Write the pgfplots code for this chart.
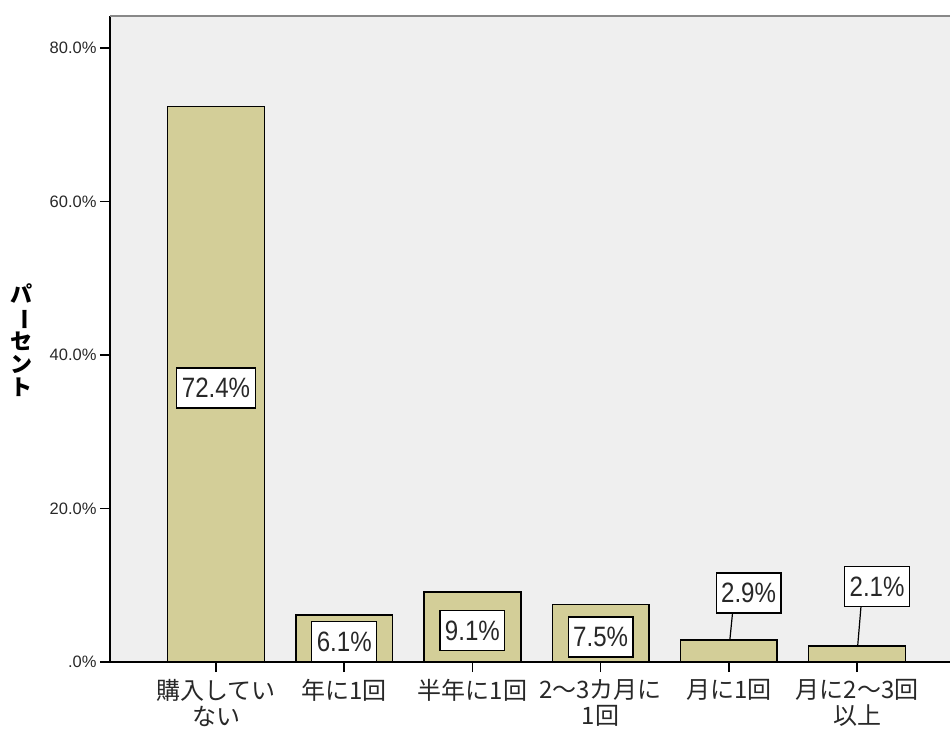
\documentclass[border=0pt]{standalone}
\usepackage{fontspec}
\setmainfont{Liberation Sans}
\newfontfamily\jp{Noto Sans CJK JP}
\newfontfamily\lblfont[FakeStretch=0.86]{Liberation Sans}
\usepackage{graphicx}
\usepackage{pgfplots}
\pgfplotsset{compat=1.18}
\definecolor{bgc}{RGB}{239,239,239}
\definecolor{barc}{RGB}{211,206,152}
\definecolor{topc}{RGB}{136,136,136}
\definecolor{txt}{RGB}{40,40,40}
\tikzset{lbl/.style={draw=black, fill=white, line width=1.2pt, text=txt, font=\lblfont\fontsize{28}{30}\selectfont, inner xsep=5pt, inner ysep=0pt, minimum height=40pt}}
\begin{document}
\begin{tikzpicture}
\path[use as bounding box] (-110pt,-69pt) rectangle (840pt,662pt);
\begin{axis}[
  at={(0pt,0pt)}, anchor=south west,
  scale only axis, width=840pt, height=646pt,
  xmin=-0.827, xmax=5.725, ymin=0, ymax=84.2,
  axis x line*=bottom, axis y line*=left,
  axis line style={-, black, line width=1.5pt},
  axis background/.style={fill=bgc},
  tick align=outside, major tick length=10pt,
  tick style={black, line width=1.5pt},
  xtick={0,1,2,3,4,5},
  xticklabels={{購入してい\\ない},{年に1回},{半年に1回},{2〜3カ月に\\1回},{月に1回},{月に2〜3回\\以上}},
  xticklabel style={font=\jp\fontsize{24}{26}\selectfont, align=center, text=txt, yshift=-4pt},
  ytick={0,20,40,60,80},
  yticklabels={.0\%,20.0\%,40.0\%,60.0\%,80.0\%},
  yticklabel style={font=\fontsize{16.5}{18}\selectfont, text=txt},
  ylabel={パ\\\rotatebox[origin=c]{-90}{ー}\\セ\\ン\\ト},
  ylabel style={rotate=-90, at={(axis description cs:-0.105,0.4985)}, anchor=center, font=\jp\bfseries\fontsize{22}{23}\selectfont, align=center},
  clip=false,
]
\addplot[ybar, bar width=0.754, fill=barc, draw=black, line width=1.5pt] table {
x y
0 72.4
1 6.1
2 9.1
3 7.5
4 2.9
5 2.1
};
\draw[topc, line width=2.5pt] (rel axis cs:0,1) -- (rel axis cs:1,1);
\draw[black, line width=1.2pt] (axis cs:4.008,2.9) -- (axis cs:4.029,6.42);
\draw[black, line width=1.2pt] (axis cs:5.005,2.1) -- (axis cs:5.031,7.30);
\node[lbl] at (axis cs:0,35.7) {72.4\%};
\node[lbl] at (axis cs:1,2.64) {6.1\%};
\node[lbl] at (axis cs:2,4.08) {9.1\%};
\node[lbl] at (axis cs:3,3.26) {7.5\%};
\node[lbl] at (axis cs:4.154,8.99) {2.9\%};
\node[lbl] at (axis cs:5.156,9.86) {2.1\%};
\end{axis}
\end{tikzpicture}
\end{document}
